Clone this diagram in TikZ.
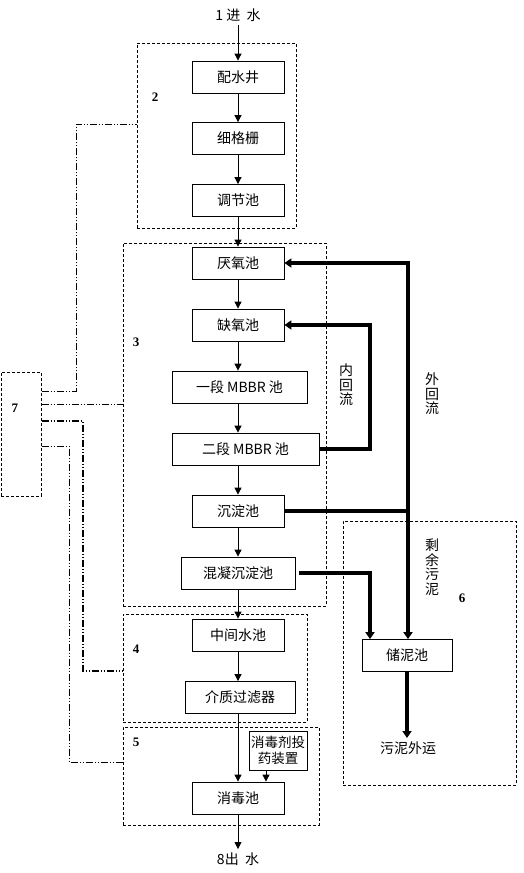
\documentclass[tikz,border=0pt]{standalone}
\usepackage{fontspec}
\setmainfont{Noto Sans CJK SC}
\newfontfamily\numfont{Liberation Serif}
\usetikzlibrary{arrows.meta}

\tikzset{
  box/.style={draw, line width=0.8pt, minimum width=92pt, minimum height=32pt, inner sep=1pt},
  group/.style={draw, line width=0.7pt, dash pattern=on 3pt off 2pt, anchor=north west, inner sep=0pt},
  flow/.style={line width=0.8pt, -{Triangle[length=7pt,width=7pt]}},
  ret/.style={line width=3.5pt, -{Triangle[length=7pt,width=9pt]}},
  ctrl/.style={line width=0.8pt, dash pattern=on 7pt off 2pt on 1pt off 2pt on 1pt off 2pt},
  num/.style={font=\numfont\bfseries\fontsize{13}{13}\selectfont},
  vtext/.style={align=center, font=\fontsize{14}{14.5}\selectfont}
}

\begin{document}
\begin{tikzpicture}[x=1pt,y=-1pt,font=\fontsize{14}{15}\selectfont]
  \useasboundingbox (0,0) rectangle (523,873);
  \coordinate (axis) at (238,0);
  \coordinate (riser) at (408,0);
  \coordinate (inner) at (370,0);

  \node[group, minimum width=159pt, minimum height=185pt] (g2) at (137,43) {};
  \node[group, minimum width=203pt, minimum height=363pt] (g3) at (123,243) {};
  \node[group, minimum width=184pt, minimum height=108pt] (g4) at (123,614) {};
  \node[group, minimum width=196pt, minimum height=98pt] (g5) at (123,727) {};
  \node[group, minimum width=173pt, minimum height=264pt] (g6) at (343,521) {};
  \node[group, minimum width=40pt, minimum height=124pt] (g7) at (1,372) {};
  \node[num] (n2) at (155,97) {2};
  \node[num] (n3) at (136,342) {3};
  \node[num] (n4) at (136,649) {4};
  \node[num] (n5) at (136,742) {5};
  \node[num] (n6) at (462,598) {6};
  \node[num] (n7) at (15,408) {7};

  \node (in) at (238,15) {1 进\ \ 水};
  \node[box] (psj) at (238,77) {配水井};
  \node[box] (xgs) at (238,138.5) {细格栅};
  \node[box] (tjc) at (238,200.5) {调节池};
  \node[box] (yyc) at (238,263) {厌氧池};
  \node[box] (qyc) at (238,325) {缺氧池};
  \node[box, minimum width=135pt] (mb1) at (239.5,387) {一段 MBBR 池};
  \node[box, minimum width=147pt] (mb2) at (245.5,449) {二段 MBBR 池};
  \node[box] (cdc) at (238,511) {沉淀池};
  \node[box, minimum width=114pt] (hnc) at (238,573) {混凝沉淀池};
  \node[box] (zjc) at (238,635) {中间水池};
  \node[box, minimum width=110pt] (glq) at (240,697.5) {介质过滤器};
  \node[box, minimum width=58pt, minimum height=39pt, align=center, inner sep=0pt,
        font=\fontsize{13.5}{16}\selectfont] (tyz) at (278,750.5) {消毒剂投\\药装置};
  \node[box] (xdc) at (238,798) {消毒池};
  \node (out) at (238,859) {8出\ \ 水};
  \node[box, minimum width=90pt] (cnc) at (407,655.5) {储泥池};
  \node (wyw) at (408,748) {污泥外运};
  \node[vtext] (nhl) at (346,385) {内\\回\\流};
  \node[vtext] (whl) at (432,394) {外\\回\\流};
  \node[vtext] (syw) at (432,567) {剩\\余\\污\\泥};

  \foreach \a/\b in {in/psj, psj/xgs, xgs/tjc, tjc/yyc, yyc/qyc, qyc/mb1, mb1/mb2,
                     mb2/cdc, cdc/hnc, hnc/zjc, zjc/glq, glq/xdc, xdc/out}
    \draw[flow] (\a.south -| axis) -- (\b.north -| axis);
  \coordinate (dose) at ([xshift=-12pt]tyz.south);
  \draw[flow] (dose) -- (dose |- xdc.north);

  \draw[ret] (cdc.east) -- (cdc.east -| riser) -- (cnc.north -| riser);
  \draw[ret] (cdc.east -| riser) |- (yyc.east);
  \draw[ret] (mb2.east) -- (mb2.east -| inner) |- (qyc.east);
  \draw[ret] ([xshift=4pt]hnc.east) -| (cnc.north -| inner);
  \draw[ret] (cnc.south) -- (cnc.south |- wyw.north);

  \draw[ctrl] (g7.east |- 0,391) -- (76,391) |- (g2.west |- 0,124);
  \draw[ctrl] (g7.east |- 0,404) -- (g3.west |- 0,404);
  \draw[ctrl, line width=1.2pt] (g7.east |- 0,421) -- (83,421) |- (g4.west |- 0,671);
  \draw[ctrl] (g7.east |- 0,446) -- (69,446) |- (g5.west |- 0,762);
\end{tikzpicture}
\end{document}
